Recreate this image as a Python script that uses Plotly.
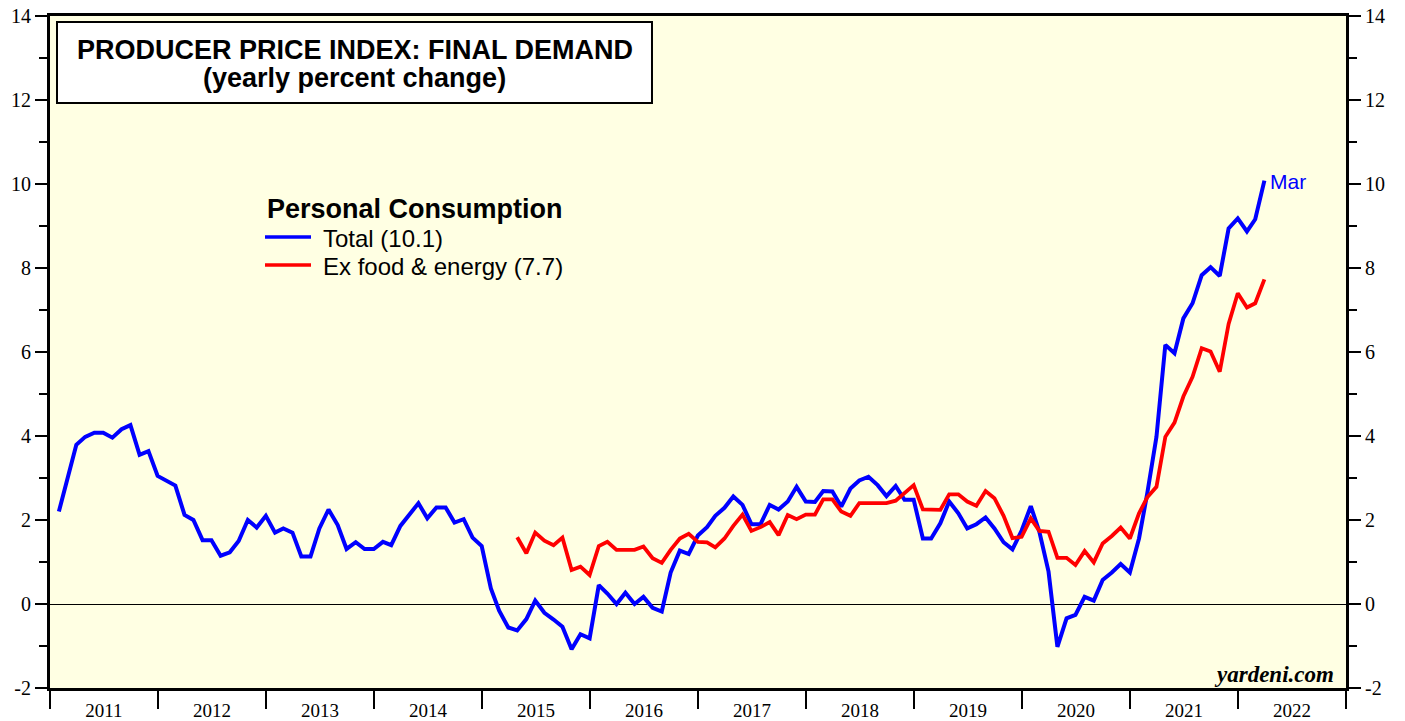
import plotly.graph_objects as go
import pandas as pd

# ---- data (yearly % change), monthly, Jan 2011 .. Mar 2022 ----
total_start = "2011-01"
total_values = [
    2.20, 3.00, 3.79, 3.98, 4.08, 4.08, 3.96, 4.16, 4.26, 3.55, 3.64, 3.05,   # 2011
    2.94, 2.82, 2.12, 2.00, 1.52, 1.52, 1.15, 1.23, 1.50, 2.00, 1.82, 2.10,   # 2012
    1.70, 1.80, 1.70, 1.13, 1.13, 1.80, 2.25, 1.88, 1.31, 1.47, 1.31, 1.31,   # 2013
    1.48, 1.40, 1.86, 2.13, 2.40, 2.04, 2.30, 2.30, 1.94, 2.02, 1.58, 1.38,   # 2014
    0.37, -0.16, -0.56, -0.63, -0.36, 0.08, -0.21, -0.37, -0.54, -1.08, -0.72, -0.82,  # 2015
    0.45, 0.25, 0.00, 0.27, 0.00, 0.17, -0.09, -0.18, 0.75, 1.27, 1.19, 1.63,  # 2016
    1.83, 2.10, 2.29, 2.56, 2.36, 1.90, 1.90, 2.36, 2.25, 2.44, 2.79, 2.44,   # 2017
    2.43, 2.69, 2.68, 2.32, 2.75, 2.94, 3.03, 2.83, 2.57, 2.81, 2.48, 2.48,   # 2018
    1.56, 1.56, 1.92, 2.44, 2.16, 1.80, 1.90, 2.06, 1.80, 1.47, 1.30, 1.75,   # 2019
    2.33, 1.72, 0.77, -1.02, -0.34, -0.26, 0.17, 0.08, 0.57, 0.75, 0.95, 0.75,  # 2020
    1.56, 2.64, 3.98, 6.17, 5.97, 6.80, 7.16, 7.83, 8.02, 7.81, 8.94, 9.18,   # 2021
    8.87, 9.16, 10.08,                                                        # 2022
]

core_start = "2015-04"
core_values = [
    1.59, 1.21, 1.70, 1.51, 1.40, 1.58, 0.81, 0.89, 0.69,                     # 2015 Apr-Dec
    1.38, 1.48, 1.29, 1.29, 1.29, 1.37, 1.09, 0.98, 1.29, 1.56, 1.67, 1.48,   # 2016
    1.47, 1.35, 1.56, 1.86, 2.13, 1.74, 1.83, 1.95, 1.64, 2.12, 2.02, 2.13,   # 2017
    2.13, 2.49, 2.49, 2.20, 2.10, 2.40, 2.40, 2.40, 2.40, 2.46, 2.63, 2.83,   # 2018
    2.25, 2.24, 2.24, 2.61, 2.61, 2.44, 2.34, 2.69, 2.52, 2.10, 1.57, 1.60,   # 2019
    2.04, 1.74, 1.72, 1.10, 1.10, 0.93, 1.26, 0.99, 1.44, 1.62, 1.82, 1.56,   # 2020
    2.16, 2.54, 2.79, 3.98, 4.32, 4.94, 5.41, 6.09, 6.01, 5.53, 6.67, 7.40,   # 2021
    7.06, 7.16, 7.73,                                                         # 2022
]

y_tickvals = [-2, 0, 2, 4, 6, 8, 10, 12, 14]
y_ticktext = ["-2", "0", "2", "4", "6", "8", "10", "12", "14"]

total_name = "Total (10.1)"
core_name = "Ex food & energy (7.7)"
legend_title = "Personal Consumption"
title_line1 = "PRODUCER PRICE INDEX: FINAL DEMAND"
title_line2 = "(yearly percent change)"
last_label = "Mar"
source = "yardeni.com"

# monthly observations plotted at month end
total_dates = pd.date_range(pd.Period(total_start).start_time, periods=len(total_values), freq="ME")
core_dates = pd.date_range(pd.Period(core_start).start_time, periods=len(core_values), freq="ME")

BLUE = "#0000FF"
RED = "#FF0000"
BG = "#FFFFE3"

fig = go.Figure()
fig.add_trace(go.Scatter(x=total_dates, y=total_values, mode="lines", name=total_name,
                         line=dict(color=BLUE, width=4), showlegend=False, yaxis="y"))
fig.add_trace(go.Scatter(x=core_dates, y=core_values, mode="lines", name=core_name,
                         line=dict(color=RED, width=3.8), showlegend=False, yaxis="y2"))

serif = "Liberation Serif, Times New Roman, serif"
sans = "Liberation Sans, Arial, sans-serif"

ycommon = dict(range=[-2, 14], tickmode="array", tickvals=y_tickvals, ticktext=y_ticktext,
               ticks="outside", ticklen=12, tickwidth=1.5,
               tickcolor="black", showgrid=False, showline=True, linecolor="black", linewidth=3,
               automargin=False,
               tickfont=dict(family=serif, size=20, color="black"),
               minor=dict(dtick=1, tick0=0, ticks="outside", ticklen=8, tickwidth=1.5, tickcolor="black",
                          showgrid=False))

fig.update_layout(
    width=1405, height=721,
    margin=dict(l=50, r=59, t=16, b=33),
    paper_bgcolor="white", plot_bgcolor=BG,
    showlegend=False,
    xaxis=dict(type="date", range=["2011-01-01", "2023-01-01"], dtick="M12", tick0="2011-01-01",
               tickformat="%Y", ticklabelmode="period", ticks="outside", ticklen=18, tickwidth=2,
               tickcolor="black", showgrid=False, showline=True, linecolor="black", linewidth=3,
               mirror=True, ticklabelstandoff=-15, automargin=False,
               tickfont=dict(family=serif, size=19, color="black")),
    yaxis=dict(side="left", zeroline=True, zerolinecolor="black", zerolinewidth=1, **ycommon),
    yaxis2=dict(overlaying="y", side="right", zeroline=False, matches="y", **ycommon),
)

# title box
fig.add_shape(type="rect", xref="paper", yref="paper", x0=0.0054, x1=0.4645, y0=0.8705, y1=0.991,
              line=dict(color="black", width=2), fillcolor="white", layer="above")
fig.add_annotation(xref="paper", yref="paper", x=0.2353, y=0.949, text="<b>" + title_line1 + "</b>",
                   showarrow=False, xanchor="center", yanchor="middle", height=24,
                   font=dict(family=sans, size=27, color="black"))
fig.add_annotation(xref="paper", yref="paper", x=0.2353, y=0.908, text="<b>" + title_line2 + "</b>",
                   showarrow=False, xanchor="center", yanchor="middle", height=30,
                   font=dict(family=sans, size=27, color="black"))

# legend (drawn as text + sample lines)
def px_x(px):
    return (px - 50) / 1296.0

def px_y(py):
    return (688 - py) / 672.0

fig.add_annotation(xref="paper", yref="paper", x=px_x(265), y=px_y(209), text="<b>" + legend_title + "</b>",
                   showarrow=False, xanchor="left", yanchor="middle",
                   font=dict(family=sans, size=27, color="black"))
for name, color, py in [(total_name, BLUE, 238), (core_name, RED, 266)]:
    fig.add_shape(type="line", xref="paper", yref="paper", x0=px_x(265), x1=px_x(311),
                  y0=px_y(py - 1), y1=px_y(py - 1), line=dict(color=color, width=3.5))
    fig.add_annotation(xref="paper", yref="paper", x=px_x(321), y=px_y(py), text=name,
                       showarrow=False, xanchor="left", yanchor="middle",
                       font=dict(family=sans, size=24, color="black"))

# last-month label
fig.add_annotation(x=total_dates[-1], y=total_values[-1], text=last_label, showarrow=False,
                   xanchor="left", yanchor="middle", xshift=4, yshift=-1,
                   font=dict(family=sans, size=21, color=BLUE))

# source
fig.add_annotation(xref="paper", yref="paper", x=px_x(1336), y=px_y(674), text="<b><i>" + source + "</i></b>",
                   showarrow=False, xanchor="right", yanchor="middle",
                   font=dict(family=serif, size=23, color="black"))

# remove the default 8px page margin so the figure fills the window exactly
fig.write_html("out.html", config={"displayModeBar": False},
               post_script="document.body.style.margin='0px';")
